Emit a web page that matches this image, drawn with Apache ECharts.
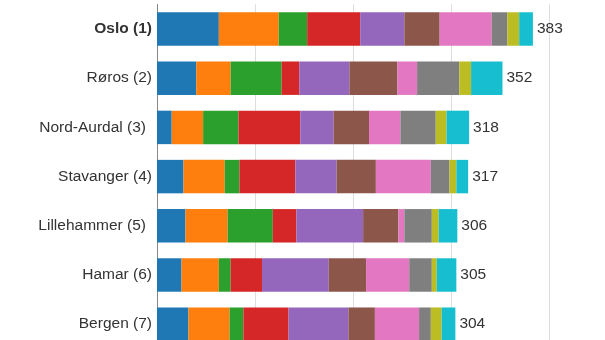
<!DOCTYPE html>
<html>
<head>
<meta charset="utf-8">
<script src="https://cdn.jsdelivr.net/npm/echarts@6/dist/echarts.min.js"></script>
<style>html,body{margin:0;padding:0;background:#fff;overflow:hidden;width:605px;height:340px}#c{width:700px;height:400px}</style>
</head>
<body>
<div id="c"></div>
<script>
var categories = ["Oslo (1)", "Røros (2)", "Nord-Aurdal (3)", "Stavanger (4)", "Lillehammer (5)", "Hamar (6)", "Bergen (7)"];
var totals = [383, 352, 318, 317, 306, 305, 304];
var seg1  = [63, 40, 15, 27, 29, 25, 32];
var seg2  = [61, 35, 32, 42, 43, 38, 42];
var seg3  = [29, 52, 36, 15, 46, 12, 14];
var seg4  = [54, 18, 63, 57, 24, 32, 46];
var seg5  = [45, 51, 34, 42, 68, 68, 61];
var seg6  = [36, 49, 36, 40, 36, 38, 27];
var seg7  = [53, 20, 32, 56, 6, 44, 45];
var seg8  = [16, 43, 36, 19, 28, 23, 12];
var seg9  = [12, 12, 11, 7, 7, 5, 11];
var seg10 = [14, 32, 23, 12, 19, 20, 14];
var segments = [seg1, seg2, seg3, seg4, seg5, seg6, seg7, seg8, seg9, seg10];
var colors = ["#1f77b4", "#ff7f0e", "#2ca02c", "#d62728", "#9467bd", "#8c564b", "#e377c2", "#7f7f7f", "#bcbd22", "#17becf"];

var FONT = "Liberation Sans, Arial, sans-serif";
var series = segments.map(function (d, i) {
  return {
    type: "bar", stack: "total", data: d, barCategoryGap: "32%",
    itemStyle: { color: colors[i] }, silent: true
  };
});
series.push({
  type: "bar", data: totals, barGap: "-100%", barCategoryGap: "32%",
  itemStyle: { color: "rgba(0,0,0,0)" }, silent: true, z: 1,
  label: {
    show: true, position: "right", distance: 4,
    color: "#333", fontSize: 15.5, fontFamily: FONT,
    formatter: function (p) { return totals[p.dataIndex]; }
  }
});

var chart = echarts.init(document.getElementById("c"), null, { renderer: "canvas" });
chart.setOption({
  animation: false,
  grid: { left: 157, top: 4.4, width: 490.75, height: 344.4, containLabel: false },
  xAxis: {
    type: "value", min: 0, max: 500, interval: 100,
    axisLabel: { show: false }, axisLine: { show: false }, axisTick: { show: false },
    splitLine: { show: true, lineStyle: { color: "#dddddd", width: 1 } }
  },
  yAxis: {
    type: "category", data: categories, inverse: true,
    axisLine: { show: true, lineStyle: { color: "#888", width: 1 } },
    axisTick: { show: false },
    axisLabel: {
      margin: 5, color: "#333", fontSize: 15.5, fontFamily: FONT,
      formatter: function (v, i) {
        if (i === 0) return "{b|" + v + "}";
        if (i === 2 || i === 4) return "{p|" + v + "}";
        return v;
      },
      rich: {
        b: { fontWeight: "bold", color: "#333", fontSize: 15.5, fontFamily: FONT },
        p: { color: "#333", fontSize: 15.5, fontFamily: FONT, padding: [0, 6, 0, 0] }
      }
    }
  },
  series: series
});
</script>
</body>
</html>
